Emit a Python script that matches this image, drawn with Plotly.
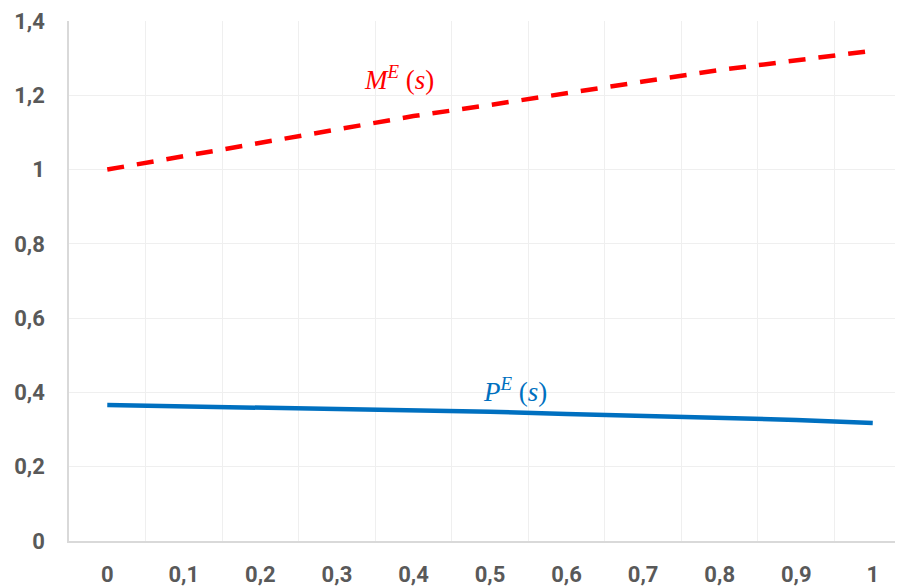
import plotly.graph_objects as go

categories = ["0", "0,1", "0,2", "0,3", "0,4", "0,5", "0,6", "0,7", "0,8", "0,9", "1"]
m_values = [1.0, 1.036, 1.074, 1.111, 1.144, 1.174, 1.204, 1.237, 1.268, 1.294, 1.32]
p_values = [0.366, 0.3625, 0.359, 0.356, 0.351, 0.348, 0.342, 0.337, 0.334, 0.326, 0.3175]
y_ticks = [0, 0.2, 0.4, 0.6, 0.8, 1.0, 1.2, 1.4]

fig = go.Figure()
fig.add_trace(go.Scatter(
    x=categories, y=m_values, mode="lines", name="M",
    line=dict(color="#FF0000", width=4.5, dash="17px,13px"),
    hoverinfo="skip",
))
fig.add_trace(go.Scatter(
    x=categories, y=p_values, mode="lines", name="P",
    line=dict(color="#0070C0", width=4.5),
    hoverinfo="skip",
))

fig.add_annotation(
    x=0.3957, y=0.890, xref="paper", yref="paper",
    text="<i>M</i><sup><i>E</i></sup> (<i>s</i>)",
    showarrow=False, xanchor="center", yanchor="middle",
    font=dict(family="Liberation Serif", size=27, color="#FF0000"),
)
fig.add_annotation(
    x=0.5348, y=0.2904, xref="paper", yref="paper",
    text="<i>P</i><sup><i>E</i></sup> (<i>s</i>)",
    showarrow=False, xanchor="center", yanchor="middle",
    font=dict(family="Liberation Serif", size=27, color="#0070C0"),
)

tick_font = dict(family="Roboto", size=22, color="#595959", weight=700)

# The page body has an 8px default margin, so the figure is sized to fill
# the 903x588 window exactly from that offset.
fig.update_layout(
    width=895, height=580,
    margin=dict(l=61, r=0, t=13, b=47, autoexpand=False),
    paper_bgcolor="white", plot_bgcolor="white",
    showlegend=False,
    separators=", ",
    xaxis=dict(
        type="category",
        range=[-0.5, 10.395],
        tickson="boundaries",
        automargin=False,
        showgrid=True, gridcolor="#EFEFEF", gridwidth=1,
        showline=True, linecolor="#D9D9D9", linewidth=1.5,
        ticks="", tickfont=tick_font,
        ticklabelstandoff=13,
        zeroline=False,
    ),
    yaxis=dict(
        range=[0, 1.4],
        tickvals=y_ticks,
        automargin=False,
        showgrid=True, gridcolor="#EFEFEF", gridwidth=1,
        showline=True, linecolor="#D9D9D9", linewidth=1.5,
        ticks="", tickfont=tick_font,
        ticklabelstandoff=18,
        zeroline=False,
    ),
)

fig.write_html("out.html")
